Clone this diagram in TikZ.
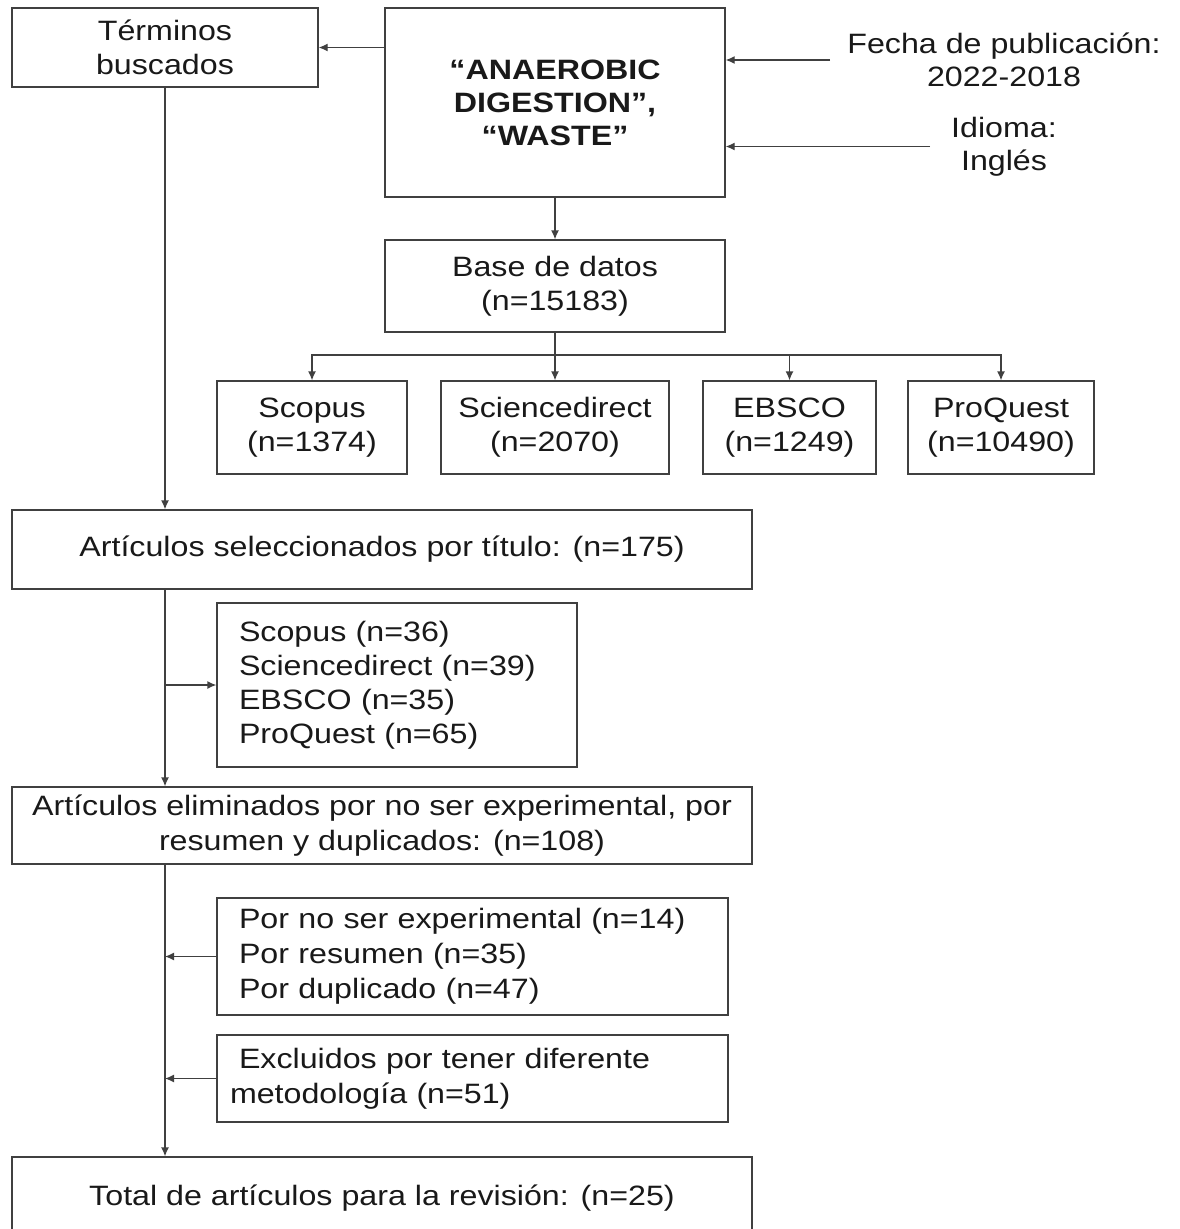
\documentclass[tikz,border=0pt]{standalone}
\usepackage{fontspec}
\setmainfont{Liberation Sans}[FakeStretch=1.15]
\usetikzlibrary{arrows.meta}
\begin{document}
\begin{tikzpicture}[x=1pt,y=-1pt,
  caja/.style={draw=black!75,line width=1.3pt,inner sep=0pt,text=black!90,align=center,font=\fontsize{28}{34}\selectfont},
  lista/.style={caja,align=left,inner xsep=22pt},
  nota/.style={inner sep=0pt,text=black!90,align=center,font=\fontsize{28}{33}\selectfont},
  flecha/.style={draw=black!75,line width=1.3pt,-{Latex[length=9pt,width=8pt]}},
  linea/.style={draw=black!75,line width=1.3pt}]
\useasboundingbox[fill=white] (0,0) rectangle (1179,1229);
\node[caja,minimum width=306pt,minimum height=79pt] (terminos) at (165,47.5) {Términos\\buscados};
\node[caja,minimum width=340pt,minimum height=189pt,font=\fontsize{28}{33}\selectfont\bfseries] (busqueda) at (555,102.5) {“ANAEROBIC\\DIGESTION”,\\“WASTE”};
\node[nota,inner xsep=17pt] (fecha) at (1004,60) {Fecha de publicación:\\2022-2018};
\node[nota,inner xsep=21pt] (idioma) at (1004,146.5) {Idioma:\\Inglés};
\draw[flecha] (busqueda.west |- terminos.east) -- (terminos.east);
\draw[flecha] (fecha.west) -- (fecha.west -| busqueda.east);
\draw[flecha] (idioma.west) -- (idioma.west -| busqueda.east);
\node[caja,minimum width=340pt,minimum height=92pt] (base) at (555,286) {Base de datos\\(n=15183)};
\draw[flecha] (busqueda) -- (base);
\coordinate (reparto) at (555,355);
\node[caja,minimum width=190pt,minimum height=93pt] (scopus) at (312,427.5) {Scopus\\(n=1374)};
\node[caja,minimum width=228pt,minimum height=93pt] (sdirect) at (555,427.5) {Sciencedirect\\(n=2070)};
\node[caja,minimum width=173pt,minimum height=93pt] (ebsco) at (789.5,427.5) {EBSCO\\(n=1249)};
\node[caja,minimum width=186pt,minimum height=93pt] (proquest) at (1001,427.5) {ProQuest\\(n=10490)};
\draw[linea] (base) -- (reparto);
\draw[flecha] (reparto) -- (sdirect);
\draw[flecha] (reparto) -| (scopus);
\draw[flecha] (reparto) -| (ebsco);
\draw[flecha] (reparto) -| (proquest);
\node[caja,minimum width=740pt,minimum height=79pt] (seleccion) at (382,549.5) {Artículos seleccionados por título: (n=175)};
\draw[flecha] (terminos) -- (terminos |- seleccion.north);
\node[lista,text width=316pt,minimum height=164pt] (detalle) at (397,685) {Scopus (n=36)\\Sciencedirect (n=39)\\EBSCO (n=35)\\ProQuest (n=65)};
\node[caja,minimum width=740pt,minimum height=77pt,font=\fontsize{28}{35}\selectfont] (eliminados) at (382,825.5) {Artículos eliminados por no ser experimental, por\\resumen y duplicados: (n=108)};
\draw[flecha] (seleccion.south -| terminos) -- (eliminados.north -| terminos);
\draw[flecha] (detalle.west -| terminos) -- (detalle);
\node[lista,text width=467pt,minimum height=117pt,font=\fontsize{28}{35}\selectfont] (motivos) at (472.5,956.5) {Por no ser experimental (n=14)\\Por resumen (n=35)\\Por duplicado (n=47)};
\node[lista,inner xsep=13pt,text width=485pt,minimum height=87pt,font=\fontsize{28}{35}\selectfont] (excluidos) at (472.5,1078.5) {\hspace*{9pt}Excluidos por tener diferente\\metodología (n=51)};
\node[caja,minimum width=740pt,minimum height=83pt] (total) at (382,1198.5) {Total de artículos para la revisión: (n=25)};
\draw[flecha] (eliminados.south -| terminos) -- (total.north -| terminos);
\draw[flecha] (motivos.west) -- (motivos.west -| terminos);
\draw[flecha] (excluidos.west) -- (excluidos.west -| terminos);
\end{tikzpicture}
\end{document}
